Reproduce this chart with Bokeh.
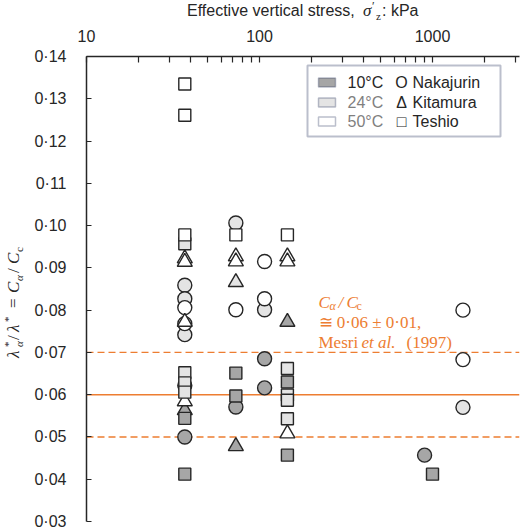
import math
from bokeh.plotting import figure
from bokeh.layouts import row, column
from bokeh.models import (FixedTicker, CustomJSTickFormatter, Span, Label, BoxAnnotation, Div)
from bokeh.embed import file_html
from bokeh.resources import INLINE

# ---- data: effective vertical stress (kPa) and lambda*_alpha / lambda* ----
# Nakajurin (circles)
naka_10_stress = [37, 73, 107, 107, 900]
naka_10_ratio = [0.0500, 0.0571, 0.0685, 0.0616, 0.0457]
naka_24_stress = [37, 37, 37, 37, 73, 107, 1500]
naka_24_ratio = [0.0859, 0.0827, 0.0742, 0.0622, 0.1006, 0.0801, 0.0570]
naka_50_stress = [37, 37, 73, 107, 107, 1500, 1500]
naka_50_ratio = [0.0806, 0.0768, 0.0801, 0.0915, 0.0827, 0.0800, 0.0683]

# Kitamura (triangles)
kita_10_stress = [37, 73, 145]
kita_10_ratio = [0.0563, 0.0478, 0.0772]
kita_24_stress = [73]
kita_24_ratio = [0.0866]
kita_50_stress = [37, 37, 37, 37, 73, 73, 145, 145, 145]
kita_50_ratio = [0.0922, 0.0914, 0.0772, 0.0584, 0.0927, 0.0915, 0.0927, 0.0915, 0.0508]

# Teshio (squares)
tesh_10_stress = [37, 37, 73, 73, 145, 145, 1000]
tesh_10_ratio = [0.0544, 0.0412, 0.0651, 0.0597, 0.0630, 0.0457, 0.0412]
tesh_24_stress = [37, 37, 37, 37, 145, 145, 145, 145]
tesh_24_ratio = [0.0957, 0.0652, 0.0628, 0.0606, 0.0662, 0.0599, 0.0587, 0.0543]
tesh_50_stress = [37, 37, 37, 73, 145]
tesh_50_ratio = [0.1335, 0.1261, 0.0978, 0.0978, 0.0978]

# Mesri et al. (1997): C_alpha/C_c = 0.06 +/- 0.01
mesri_mean = 0.06
mesri_band = 0.01

x_ticks = [10, 100, 1000]
x_minor = [20, 30, 40, 50, 60, 70, 80, 90, 200, 300, 400, 500, 600, 700, 800, 900, 2000, 3000]
y_ticks = [0.03, 0.04, 0.05, 0.06, 0.07, 0.08, 0.09, 0.10, 0.11, 0.12, 0.13, 0.14]

# ---- layout (page pixels) ----
W, H = 520, 529
YLAB_W = 26          # strip holding the rotated y title
TITLE_H = 24         # strip holding the top title
FL, FR, FT, FB = 86, 519, 56, 521   # plot frame edges on the page
DECADE = 173.0
Y0, Y1 = 0.03, 0.14
X0, X1 = 10.0, 10 ** (1 + (FR - FL) / DECADE)

INK = "#262626"
ORANGE = "#ED7D31"
NAVY = "#1F2A55"
FILL_10 = "#A6A6A6"
FILL_24 = "#E4E4E4"
FILL_50 = "#FFFFFF"
SANS = "Liberation Sans"
SERIF = "Liberation Serif"


def px_x(px):
    return 10 ** (1 + (px - FL) / DECADE)


def px_y(py):
    return Y1 - (py - FT) * (Y1 - Y0) / (FB - FT)


p = figure(width=W - YLAB_W, height=H - TITLE_H, x_axis_type="log",
           x_range=(X0, X1), y_range=(Y0, Y1), x_axis_location="above",
           output_backend="svg", toolbar_location=None,
           min_border_left=FL - YLAB_W, min_border_right=W - FR,
           min_border_top=FT - TITLE_H, min_border_bottom=H - FB)
p.outline_line_color = None
p.xgrid.visible = False
p.ygrid.visible = False
p.background_fill_color = "white"
p.border_fill_color = "white"

# top (stress) axis
xa = p.xaxis[0]
xa.ticker = FixedTicker(ticks=x_ticks, minor_ticks=x_minor)
xa.formatter = CustomJSTickFormatter(code="return tick.toFixed(0);")
xa.major_tick_in = 6
xa.major_tick_out = 0
xa.minor_tick_in = 6
xa.minor_tick_out = 0
xa.axis_line_width = 1.5
xa.axis_line_color = INK
xa.major_tick_line_color = INK
xa.minor_tick_line_color = INK
xa.major_tick_line_width = 1.2
xa.minor_tick_line_width = 1.2
xa.major_label_text_font = SANS
xa.major_label_text_font_size = "16px"
xa.major_label_text_color = INK
xa.major_label_standoff = 15

# left (ratio) axis
ya = p.yaxis[0]
ya.ticker = FixedTicker(ticks=y_ticks)
ya.formatter = CustomJSTickFormatter(code="return tick.toFixed(2).replace('.', '\u00b7');")
ya.major_tick_in = 5
ya.major_tick_out = 0
ya.minor_tick_in = 0
ya.minor_tick_out = 0
ya.axis_line_width = 1.5
ya.axis_line_color = INK
ya.major_tick_line_color = INK
ya.major_tick_line_width = 1.2
ya.major_label_text_font = SANS
ya.major_label_text_font_size = "16px"
ya.major_label_text_color = INK
ya.major_label_standoff = 20

# Mesri et al. band
p.add_layout(Span(location=mesri_mean, dimension="width", line_color=ORANGE,
                  line_width=1.6, level="underlay"))
for loc in (mesri_mean - mesri_band, mesri_mean + mesri_band):
    p.add_layout(Span(location=loc, dimension="width", line_color=ORANGE,
                      line_width=1.4, line_dash="7 4", level="underlay"))

# data markers: circles, then triangles, then squares
series = [
    ("circle", 14, naka_10_stress, naka_10_ratio, FILL_10),
    ("circle", 14, naka_24_stress, naka_24_ratio, FILL_24),
    ("circle", 14, naka_50_stress, naka_50_ratio, FILL_50),
    ("triangle", 15, kita_10_stress, kita_10_ratio, FILL_10),
    ("triangle", 15, kita_24_stress, kita_24_ratio, FILL_24),
    ("triangle", 15, kita_50_stress, kita_50_ratio, FILL_50),
    ("square", 12, tesh_10_stress, tesh_10_ratio, FILL_10),
    ("square", 12, tesh_24_stress, tesh_24_ratio, FILL_24),
    ("square", 12, tesh_50_stress, tesh_50_ratio, FILL_50),
]
for marker, size, xs, ys, fill in series:
    p.scatter(xs, ys, marker=marker, size=size, fill_color=fill,
              line_color=INK, line_width=1.4)


def plot_text(px, py, txt, font=SANS, size="16px", style="normal", color=INK,
              align="left", baseline="alphabetic"):
    p.add_layout(Label(x=px_x(px), y=px_y(py), text=txt, text_font=font,
                       text_font_size=size, text_font_style=style, text_color=color,
                       text_align=align, text_baseline=baseline))


# Mesri et al. annotation
plot_text(318, 302, "C", font=SERIF, size="17px", style="italic", color=ORANGE)
plot_text(329, 305, "\u03b1", font=SERIF, size="12px", style="italic", color=ORANGE)
plot_text(338, 302, "/", font=SERIF, size="17px", style="italic", color=ORANGE)
plot_text(346, 302, "C", font=SERIF, size="17px", style="italic", color=ORANGE)
plot_text(356, 305, "c", font=SERIF, size="12px", color=ORANGE)
plot_text(318, 322, "\u2245 0\u00b706 \u00b1 0\u00b701,", font=SERIF, size="17px", color=ORANGE)
plot_text(318, 342, "Mesri", font=SERIF, size="17px", color=ORANGE)
plot_text(361, 342, "et al.", font=SERIF, size="17px", style="italic", color=ORANGE)
plot_text(406, 342, "(1997)", font=SERIF, size="17px", color=ORANGE)

# legend
p.add_layout(BoxAnnotation(left=px_x(307), right=px_x(500), top=px_y(65), bottom=px_y(136),
                           fill_color="white", fill_alpha=1.0, line_color=NAVY,
                           line_width=2))
rows = [(82, "10\u00b0C", FILL_10, INK, "O", "Nakajurin"),
        (102, "24\u00b0C", FILL_24, "#7F7F7F", "\u0394", "Kitamura"),
        (121, "50\u00b0C", FILL_50, "#7F7F7F", "\u25a1", "Teshio")]
for cy, temp, fill, tcolor, sym, site in rows:
    p.add_layout(BoxAnnotation(left=px_x(318), right=px_x(335), top=px_y(cy - 4.5),
                               bottom=px_y(cy + 4.5), fill_color=fill, fill_alpha=1.0,
                               line_color=NAVY, line_width=1.5))
    plot_text(347, cy, temp, color=tcolor, baseline="middle")
    plot_text(401, cy, sym, align="center", baseline="middle")
    plot_text(412, cy, site, baseline="middle")


# ---- axis titles as HTML text (sub/superscripts) ----
def piece(txt, left, baseline, size, font, italic=False, color=INK):
    """Absolutely placed run of text; 'baseline' is the distance from the box top."""
    ascent = 0.905 if font == SANS else 0.891
    descent = 0.212 if font == SANS else 0.216
    top = baseline - size * ((1 - ascent - descent) / 2 + ascent)
    style = ("position:absolute;left:%.1fpx;top:%.1fpx;font-family:'%s';font-size:%dpx;"
             "line-height:%dpx;white-space:nowrap;color:%s;font-style:%s;"
             % (left, top, font, size, size, color, "italic" if italic else "normal"))
    return '<span style="%s">%s</span>' % (style, txt)


# top title: Effective vertical stress, sigma'_z: kPa  (left offsets from the strip edge)
title_html = "".join([
    piece("Effective vertical stress,", 187 - YLAB_W, 16, 16, SANS),
    piece("\u03c3", 363 - YLAB_W, 16, 17, SERIF, italic=True),
    piece("\u2032", 372 - YLAB_W, 10.5, 12, SERIF),
    piece("z", 376 - YLAB_W, 20, 11, SERIF),
    piece(": kPa", 382 - YLAB_W, 16, 16, SANS),
])
title_div = Div(text='<div style="position:relative;width:%dpx;height:%dpx;">%s</div>'
                % (W - YLAB_W, TITLE_H, title_html),
                width=W - YLAB_W, height=TITLE_H, margin=0)

# left title: lambda*_alpha / lambda* = C_alpha / C_c, rotated to read upward.
# Along-text offsets are measured upward from the bottom end at y = 358.
YBASE = 19   # x of the main baseline on the page
ylab_html = "".join([
    piece("\u03bb", 0, YBASE, 17, SERIF, italic=True),
    piece("*", 11, YBASE - 7, 11, SERIF),
    piece("\u03b1", 11, YBASE + 4, 11, SERIF, italic=True),
    piece("/", 18, YBASE, 17, SERIF),
    piece("\u03bb", 26, YBASE, 17, SERIF, italic=True),
    piece("*", 36, YBASE - 7, 11, SERIF),
    piece("=", 50, YBASE, 17, SERIF),
    piece("C", 65, YBASE, 17, SERIF, italic=True),
    piece("\u03b1", 77, YBASE + 4, 11, SERIF, italic=True),
    piece("/", 85, YBASE, 17, SERIF),
    piece("C", 94, YBASE, 17, SERIF, italic=True),
    piece("c", 106, YBASE + 4, 11, SERIF),
])
ylab_div = Div(text=('<div style="position:relative;width:%dpx;height:%dpx;">'
                     '<div style="position:absolute;left:0px;top:358px;width:130px;height:26px;'
                     'transform:rotate(-90deg);transform-origin:0 0;">%s</div></div>')
               % (YLAB_W, H, ylab_html),
               width=YLAB_W, height=H, margin=0)

layout = row(ylab_div, column(title_div, p))
open("out.html", "w").write(file_html(layout, INLINE))
